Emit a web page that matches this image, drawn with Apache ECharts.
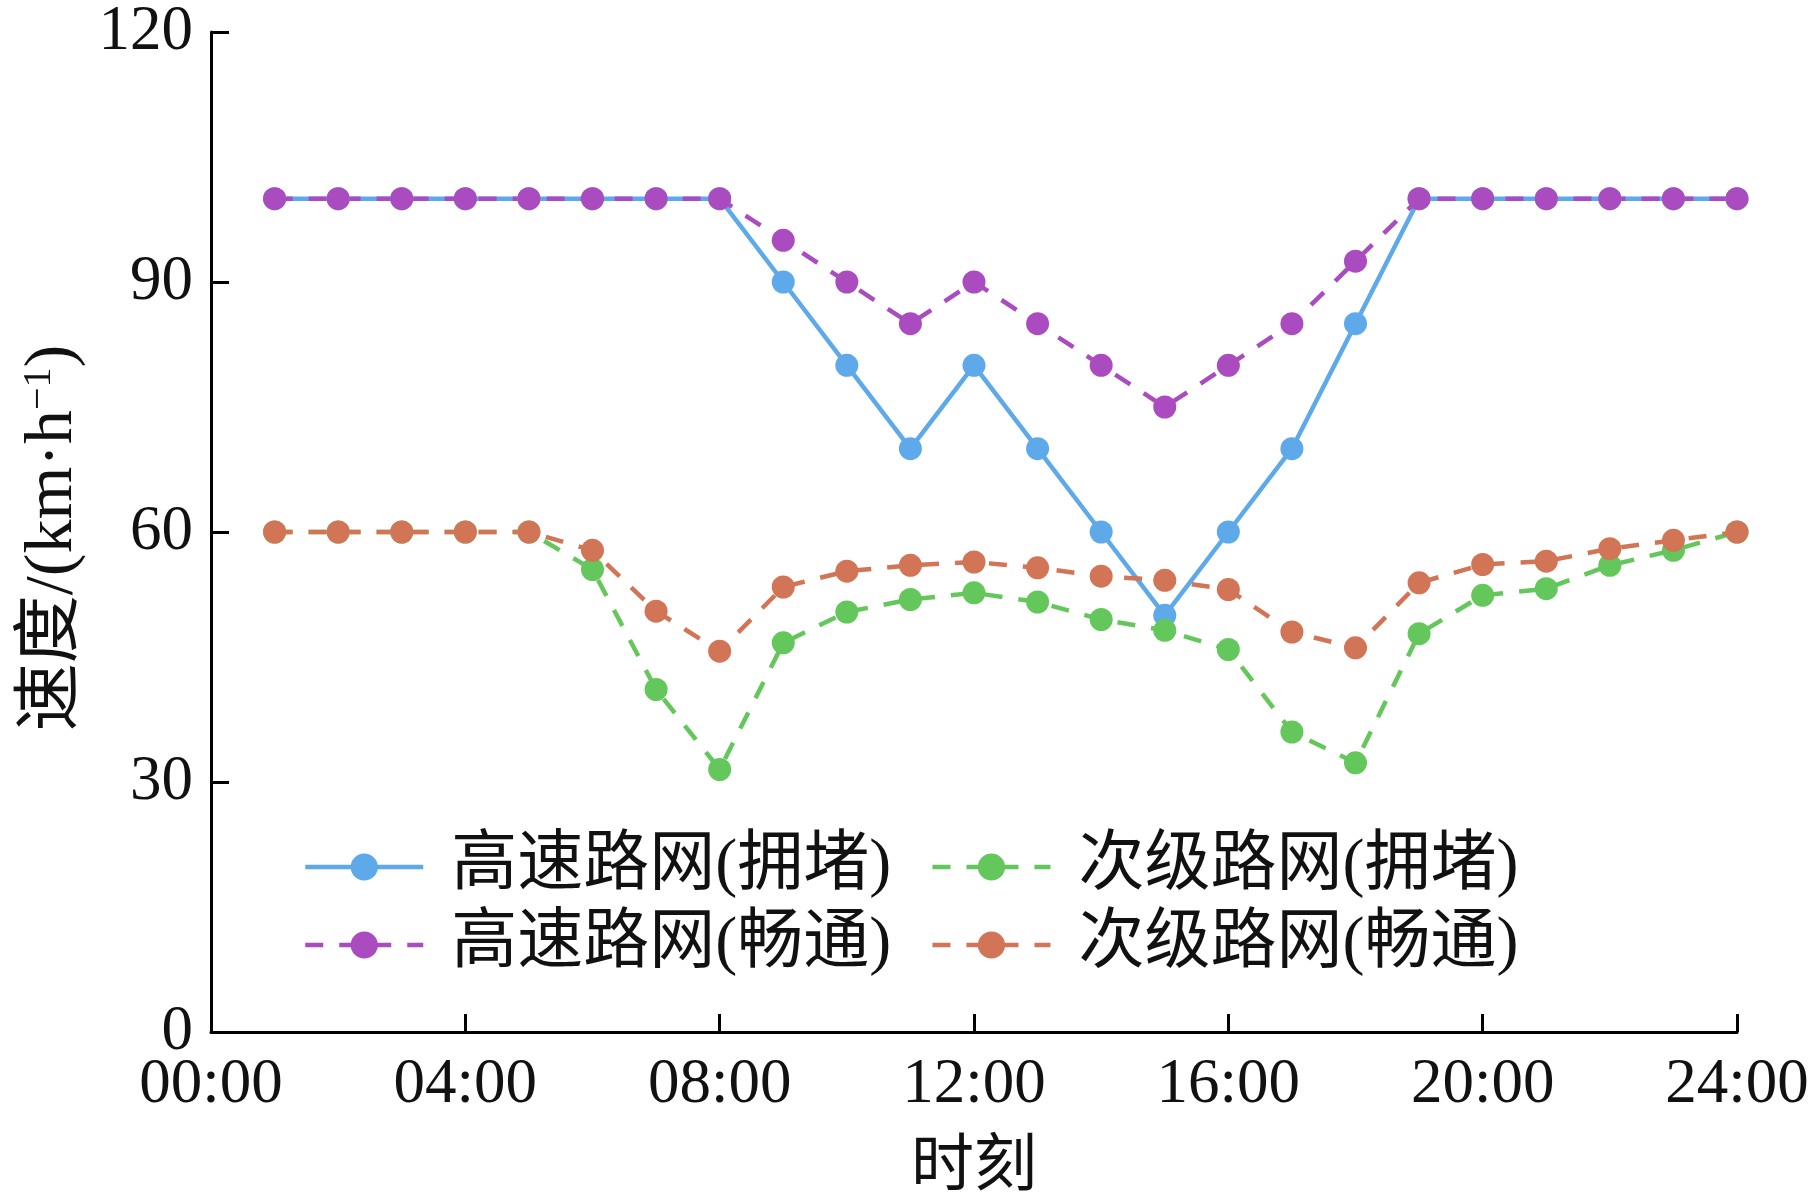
<!DOCTYPE html>
<html>
<head>
<meta charset="utf-8">
<title>速度-时刻</title>
<script src="https://cdn.jsdelivr.net/npm/echarts@6.0.0/dist/echarts.min.js"></script>
<style>
    html, body { margin: 0; padding: 0; background: #fff; }
    #main { width: 1813px; height: 1196px; }
</style>
</head>
<body>
<div id="main"></div>
<script>
// 时刻 (h)
var hours = [1, 2, 3, 4, 5, 6, 7, 8, 9, 10, 11, 12,
    13, 14, 15, 16, 17, 18, 19, 20, 21, 22, 23, 24];

// 速度 km/h
var highwayJam = [100, 100, 100, 100, 100, 100, 100, 100, 90, 80, 70, 80,
    70, 60, 50, 60, 70, 85, 100, 100, 100, 100, 100, 100];
var highwayFree = [100, 100, 100, 100, 100, 100, 100, 100, 95, 90, 85, 90,
    85, 80, 75, 80, 85, 92.5, 100, 100, 100, 100, 100, 100];
var minorJam = [60, 60, 60, 60, 60, 55.5, 41.1, 31.5, 46.7, 50.4, 51.9, 52.7,
    51.6, 49.5, 48.2, 45.9, 36, 32.3, 47.8, 52.4, 53.2, 56, 57.8, 60];
var minorFree = [60, 60, 60, 60, 60, 57.8, 50.5, 45.7, 53.4, 55.3, 56, 56.4,
    55.7, 54.7, 54.2, 53.1, 48, 46.1, 53.9, 56.1, 56.5, 58, 59, 60];

var xTicks = ['00:00', '04:00', '08:00', '12:00', '16:00', '20:00', '24:00'];
var names = ['高速路网(拥堵)', '高速路网(畅通)', '次级路网(拥堵)', '次级路网(畅通)'];
var colors = ['#5DA9E9', '#AA4CC0', '#64C75B', '#D17556'];

var FONT = '"Liberation Serif", "Noto Sans CJK SC", serif';

function pairs(vals) {
    return hours.map(function (h, i) { return [h, vals[i]]; });
}

function lineSeries(idx, vals, dashed) {
    return {
        name: names[idx],
        type: 'line',
        data: pairs(vals),
        symbol: 'circle',
        symbolSize: 23,
        color: colors[idx],
        itemStyle: { color: colors[idx] },
        lineStyle: {
            color: colors[idx],
            width: 4.5,
            type: dashed ? [18, 16] : 'solid'
        }
    };
}

function legendAt(top, data) {
    return {
        top: top,
        left: 298,
        data: data,
        itemWidth: 118,
        itemHeight: 34,
        itemGap: 39,
        lineStyle: { width: 4.5 },
        textStyle: {
            fontFamily: FONT,
            fontSize: 66,
            color: '#111',
            padding: [0, 0, 0, 23]
        }
    };
}

var dom = document.getElementById('main');
var myChart = echarts.init(dom);

var option = {
    animation: false,
    backgroundColor: '#fff',
    grid: { left: 211, right: 76, top: 32, bottom: 164, outerBoundsMode: 'none', containLabel: false },
    legend: [
        legendAt(829, [names[0], names[2]]),
        legendAt(907, [names[1], names[3]])
    ],
    xAxis: {
        type: 'value',
        min: 0,
        max: 24,
        interval: 4,
        name: '时刻',
        nameLocation: 'middle',
        nameGap: 105,
        nameTextStyle: { fontFamily: FONT, fontSize: 63, color: '#111' },
        axisLine: { lineStyle: { color: '#000', width: 3 } },
        axisTick: { inside: true, length: 18, lineStyle: { color: '#000', width: 3 } },
        axisLabel: {
            margin: 22,
            fontFamily: FONT,
            fontSize: 63,
            color: '#111',
            formatter: function (v) { return xTicks[v / 4]; }
        },
        splitLine: { show: false }
    },
    yAxis: {
        type: 'value',
        min: 0,
        max: 120,
        interval: 30,
        name: '{a|速度/(km·h}{s|−1}{a|)}',
        nameLocation: 'middle',
        nameRotate: 90,
        nameGap: 112,
        nameTextStyle: {
            padding: [0, 12, 0, 0],
            rich: {
                a: { fontFamily: FONT, fontSize: 68, color: '#111' },
                s: { fontFamily: FONT, fontSize: 40, color: '#111', verticalAlign: 'top' }
            }
        },
        axisLine: { show: true, lineStyle: { color: '#000', width: 3 } },
        axisTick: { show: true, inside: true, length: 18, lineStyle: { color: '#000', width: 3 } },
        axisLabel: { margin: 18, fontFamily: FONT, fontSize: 63, color: '#111' },
        splitLine: { show: false }
    },
    series: [
        lineSeries(0, highwayJam, false),
        lineSeries(1, highwayFree, true),
        lineSeries(2, minorJam, true),
        lineSeries(3, minorFree, true)
    ]
};
myChart.setOption(option);
</script>
</body>
</html>
